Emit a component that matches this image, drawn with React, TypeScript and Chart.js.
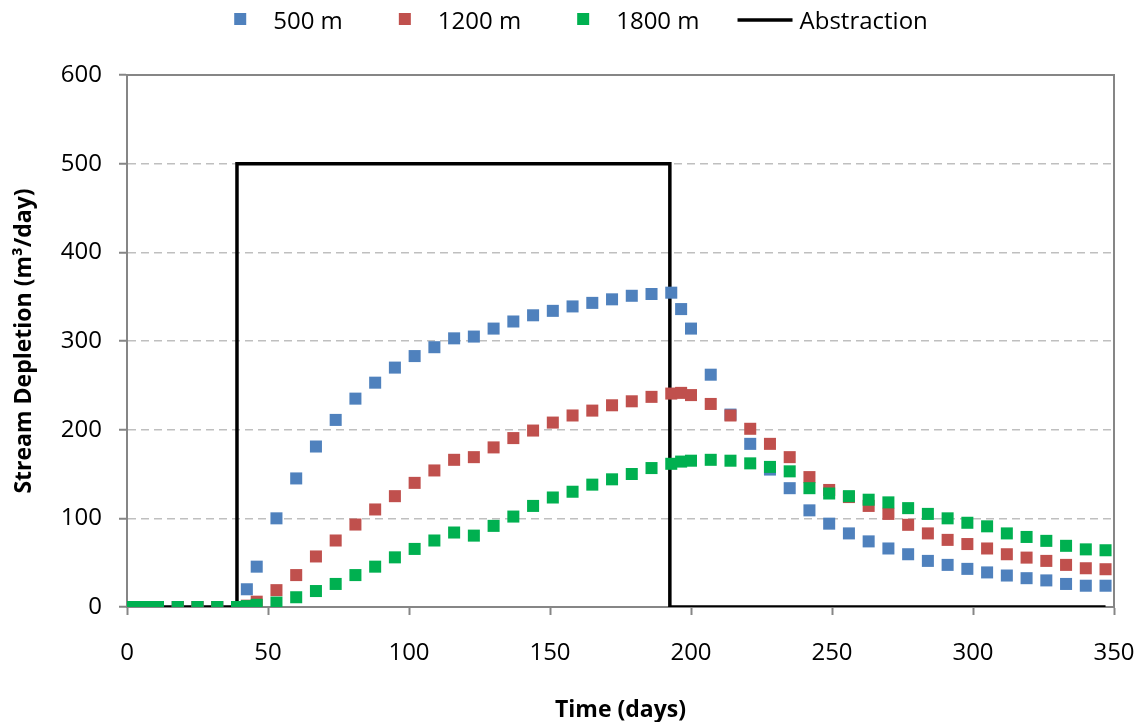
import React, { useEffect, useRef } from 'react';
import { Chart, registerables } from 'chart.js';

Chart.register(...registerables);

// ---- Data ----
const days = [
  0, 4, 7, 11, 18, 25, 32, 39, 42.5, 46, 53, 60, 67, 74, 81, 88, 95, 102, 109, 116, 123, 130,
  137, 144, 151, 158, 165, 172, 179, 186, 193, 196.5, 200, 207, 214, 221, 228, 235, 242, 249,
  256, 263, 270, 277, 284, 291, 298, 305, 312, 319, 326, 333, 340, 347,
];

const depletion500 = [
  0, 0, 0, 0, 0, 0, 0, 0, 20, 45.5, 100, 145, 181, 211, 235, 253, 270, 283, 293, 303, 305, 314,
  322, 329, 334, 339, 343, 347, 351, 353, 354.5, 336, 314, 262, 217, 184, 155, 134, 109, 94,
  83, 74, 66, 59.5, 52, 47.5, 43, 39, 35.5, 32.5, 30, 26, 24, 24,
];

const depletion1200 = [
  0, 0, 0, 0, 0, 0, 0, 0, 1.5, 6, 19, 36, 57, 75, 93, 110, 125, 140, 154, 166, 169, 180,
  190.5, 199, 208, 216, 221.5, 227.5, 232, 237, 240.7, 241.5, 239, 229, 216, 201, 184, 169, 146.5, 132,
  124, 114, 105, 92.7, 83, 75.7, 71, 66, 59.5, 55.7, 52, 47.5, 43.7, 42.6,
];

const depletion1800 = [
  0, 0, 0, 0, 0, 0, 0, 0, 1, 2.5, 5, 11, 18, 26, 36, 45.5, 56, 65.5, 75, 84, 80.5, 91.5,
  102, 114, 123.5, 130, 138, 144, 150, 156.7, 161.5, 164, 165, 166, 165, 162, 158, 153, 134, 128,
  125, 121, 118, 111.5, 105, 100, 95, 91, 83, 79, 74.6, 69, 65, 64,
];

const abstractionDays = [0, 39, 39, 192.5, 192.5, 347];
const abstractionRate = [0, 0, 500, 500, 0, 0];

const seriesLabels = ['500 m', '1200 m', '1800 m', 'Abstraction'];
const seriesColors = ['#4F81BD', '#C0504D', '#00B050', '#000000'];

const xMin = 0;
const xMax = 350;
const xStep = 50;
const yMin = 0;
const yMax = 600;
const yStep = 100;

const xTitle = 'Time (days)';
const yTitle = 'Stream Depletion (m³/day)';

// ---- Styling ----
const FONT = "'Open Sans', sans-serif";
const GRID = '#BFBFBF';
const AXIS = '#868686';

const toPoints = (xs: number[], ys: number[]) => xs.map((x, i) => ({ x, y: ys[i] }));

const framePlugin = {
  id: 'plotFrame',
  beforeDatasetsDraw(chart: any) {
    const { ctx, chartArea } = chart;
    ctx.save();
    ctx.strokeStyle = AXIS;
    ctx.lineWidth = 2;
    ctx.beginPath();
    ctx.moveTo(chartArea.left, chartArea.top);
    ctx.lineTo(chartArea.right, chartArea.top);
    ctx.lineTo(chartArea.right, chartArea.bottom);
    ctx.stroke();
    ctx.restore();
  },
};

const legendPlugin = {
  id: 'topLegend',
  afterDraw(chart: any) {
    const ctx = chart.ctx;
    const datasets = chart.data.datasets;
    ctx.save();
    ctx.font = `24px ${FONT}`;
    ctx.textBaseline = 'middle';
    ctx.textAlign = 'left';
    const items = datasets.map((ds: any, i: number) => {
      const isLine = ds.type === 'line';
      return {
        label: ds.label,
        color: isLine ? ds.borderColor : ds.backgroundColor,
        isLine,
        markerW: isLine ? 55 : 12,
        markerGap: isLine ? 7 : 27,
        preGap: i === 0 ? 0 : isLine ? 38 : 56,
        textW: ctx.measureText(ds.label).width,
      };
    });
    const total = items.reduce((s: number, it: any) => s + it.preGap + it.markerW + it.markerGap + it.textW, 0);
    let x = 581 - total / 2;
    const cy = 20;
    items.forEach((it: any) => {
      x += it.preGap;
      if (it.isLine) {
        ctx.strokeStyle = it.color;
        ctx.lineWidth = 3.5;
        ctx.beginPath();
        ctx.moveTo(x, cy);
        ctx.lineTo(x + it.markerW, cy);
        ctx.stroke();
      } else {
        ctx.fillStyle = it.color;
        ctx.fillRect(x, cy - 7, it.markerW, it.markerW);
      }
      x += it.markerW + it.markerGap;
      ctx.fillStyle = '#000';
      ctx.fillText(it.label, x, cy + 2);
      x += it.textW;
    });
    ctx.restore();
  },
};

export default function App() {
  const canvasRef = useRef<HTMLCanvasElement | null>(null);

  useEffect(() => {
    if (!canvasRef.current) return;
    const scatterSet = (idx: number, values: number[], order: number) => ({
      type: 'scatter' as const,
      label: seriesLabels[idx],
      data: toPoints(days, values),
      backgroundColor: seriesColors[idx],
      borderColor: seriesColors[idx],
      borderWidth: 0,
      pointStyle: 'rect',
      pointRadius: 8.5,
      pointHoverRadius: 8.5,
      order,
    });

    const chart = new Chart(canvasRef.current, {
      type: 'scatter',
      data: {
        datasets: [
          scatterSet(0, depletion500, 3),
          scatterSet(1, depletion1200, 2),
          scatterSet(2, depletion1800, 1),
          {
            type: 'line' as const,
            label: seriesLabels[3],
            data: toPoints(abstractionDays, abstractionRate),
            borderColor: seriesColors[3],
            backgroundColor: seriesColors[3],
            borderWidth: 3.5,
            pointRadius: 0,
            fill: false,
            tension: 0,
            order: 4,
          } as any,
        ],
      },
      options: {
        responsive: false,
        animation: false,
        events: [],
        layout: { padding: { top: 75, right: 31, bottom: 0, left: 0 } },
        plugins: {
          legend: { display: false },
          tooltip: { enabled: false },
        },
        scales: {
          x: {
            type: 'linear',
            min: xMin,
            max: xMax,
            ticks: {
              stepSize: xStep,
              color: '#000',
              font: { family: FONT, size: 24 },
              padding: 24,
              maxRotation: 0,
            },
            grid: {
              drawOnChartArea: false,
              color: AXIS,
              tickColor: AXIS,
              tickLength: 8,
              tickWidth: 2,
            },
            border: { color: AXIS, width: 2 },
            title: {
              display: true,
              text: xTitle,
              color: '#000',
              font: { family: FONT, size: 23, weight: 'bold', lineHeight: 1 },
              padding: { top: 0, bottom: 0 },
            },
            afterFit: (s: any) => {
              s.height = 115;
              s.paddingRight = 0;
              s.paddingLeft = 0;
            },
          },
          y: {
            type: 'linear',
            min: yMin,
            max: yMax,
            ticks: {
              stepSize: yStep,
              color: '#000',
              font: { family: FONT, size: 24 },
              padding: 17,
            },
            grid: {
              color: (c: any) =>
                c.tick && (c.tick.value === yMin || c.tick.value === yMax) ? 'rgba(0,0,0,0)' : GRID,
              lineWidth: 1.5,
              tickColor: AXIS,
              tickLength: 8,
              tickWidth: 2,
              tickBorderDash: [],
            },
            border: { color: AXIS, width: 2, dash: [8, 5] },
            title: {
              display: true,
              text: yTitle,
              color: '#000',
              font: { family: FONT, size: 23, weight: 'bold', lineHeight: 1 },
              padding: { top: 12.5, bottom: 0 },
            },
            afterFit: (s: any) => {
              s.width = 127;
              s.paddingTop = 0;
              s.paddingBottom = 0;
            },
          },
        },
      } as any,
      plugins: [framePlugin, legendPlugin],
    });
    return () => chart.destroy();
  }, []);

  return (
    <div style={{ position: 'absolute', left: 0, top: 0, width: 1145, height: 722, background: '#fff' }}>
      <canvas ref={canvasRef} width={1145} height={722} style={{ display: 'block' }} />
    </div>
  );
}
